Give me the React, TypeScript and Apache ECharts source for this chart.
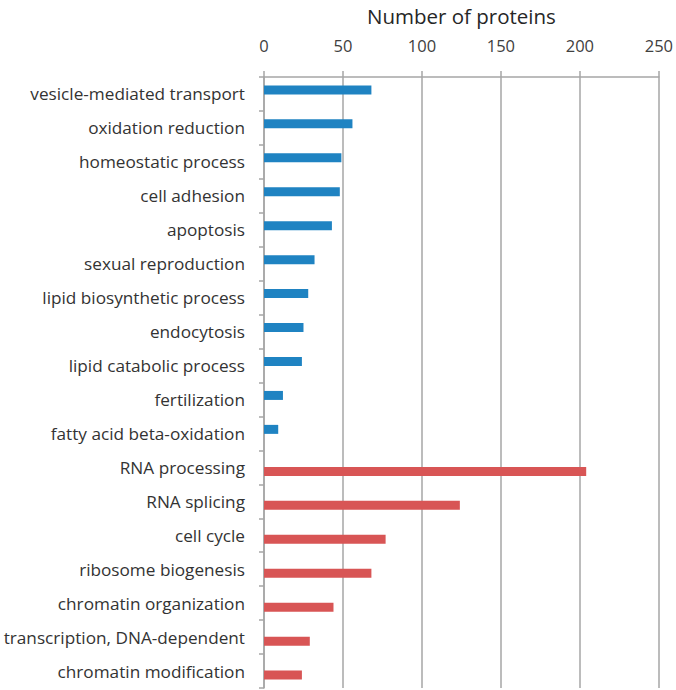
import React, { useEffect, useRef } from "react";
import * as echarts from "echarts";

const categories = [
  "vesicle-mediated transport",
  "oxidation reduction",
  "homeostatic process",
  "cell adhesion",
  "apoptosis",
  "sexual reproduction",
  "lipid biosynthetic process",
  "endocytosis",
  "lipid catabolic process",
  "fertilization",
  "fatty acid beta-oxidation",
  "RNA processing",
  "RNA splicing",
  "cell cycle",
  "ribosome biogenesis",
  "chromatin organization",
  "transcription, DNA-dependent",
  "chromatin modification",
];

const blueValues: (number | string)[] = [68, 56, 49, 48, 43, 32, 28, 25, 24, 12, 9, "-", "-", "-", "-", "-", "-", "-"];
const redValues: (number | string)[] = ["-", "-", "-", "-", "-", "-", "-", "-", "-", "-", "-", 204, 124, 77, 68, 44, 29, 24];

const xTicks = { min: 0, max: 250, interval: 50 };
const axisTitle = "Number of proteins";

export default function App() {
  const ref = useRef<HTMLDivElement>(null);
  useEffect(() => {
    if (!ref.current) return;
    const chart = echarts.init(ref.current, undefined, { renderer: "svg" });
    const font = "'Open Sans', sans-serif";
    chart.setOption({
      animation: false,
      backgroundColor: "#ffffff",
      grid: { left: 264, right: 15, top: 74, bottom: 2, containLabel: false },
      xAxis: {
        type: "value",
        position: "top",
        min: xTicks.min,
        max: xTicks.max,
        interval: xTicks.interval,
        name: axisTitle,
        nameLocation: "middle",
        nameGap: 51,
        nameTextStyle: { fontFamily: font, fontSize: 20.5, color: "#262626" },
        axisLine: { show: true, lineStyle: { color: "#a6a6a6", width: 1.5 } },
        axisTick: { show: true, length: 6, lineStyle: { color: "#a6a6a6", width: 1.5 } },
        axisLabel: { fontFamily: font, fontSize: 16.5, color: "#404040", margin: 23 },
        splitLine: { show: true, lineStyle: { color: "#a6a6a6", width: 1.5 } },
      },
      yAxis: {
        type: "category",
        data: categories,
        inverse: true,
        axisLine: { show: true, lineStyle: { color: "#a6a6a6", width: 1.5 } },
        axisTick: { show: true, length: 5, lineStyle: { color: "#a6a6a6", width: 1.5 } },
        axisLabel: { fontFamily: font, fontSize: 17.2, color: "#333333", margin: 19 },
        splitLine: { show: false },
      },
      series: [
        {
          type: "bar",
          data: blueValues,
          barWidth: 9,
          barGap: "-10%",
          itemStyle: { color: "#1f83c2" },
        },
        {
          type: "bar",
          data: redValues,
          barWidth: 9,
          barGap: "-10%",
          itemStyle: { color: "#d85555" },
        },
      ],
    });
    return () => chart.dispose();
  }, []);
  return (
    <div
      ref={ref}
      style={{ position: "absolute", left: 0, top: 0, width: 676, height: 690 }}
    />
  );
}
